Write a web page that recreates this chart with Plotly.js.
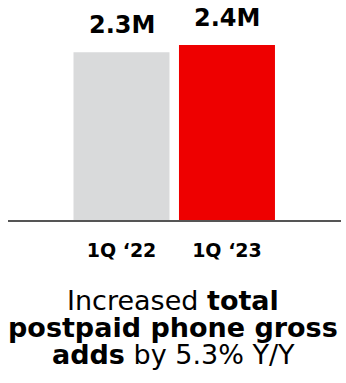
<!DOCTYPE html>
<html><head><meta charset="utf-8">
<script src="https://cdn.plot.ly/plotly-3.0.1.min.js"></script>
<style>html,body{margin:0;padding:0;background:#fff;}#chart{width:346px;height:383px;}</style>
</head><body><div id="chart"></div>
<script>
const categories = ["1Q ‘22", "1Q ‘23"];
const values = [2.3, 2.4];
const valueLabels = ["2.3M", "2.4M"];
const barColors = ["#d9dadb", "#ee0000"];
const captionLines = [
  "Increased <b>total</b>",
  "<b>postpaid phone gross</b>",
  "<b>adds</b> by 5.3% Y/Y"
];

const F = "DejaVu Sans, Liberation Sans, Arial, sans-serif";
const W = 346, H = 383, mL = 8, mR = 5, mT = 0, mB = 163;
const plotH = H - mT - mB;

const annotations = categories.map((c, i) => ({
  x: c, y: values[i], xref: 'x', yref: 'y',
  text: '<b>' + valueLabels[i] + '</b>', showarrow: false,
  yanchor: 'bottom', yshift: 11,
  font: {family: F, size: 24, color: '#000'}
}));
const captionY = [300, 327, 354];
captionLines.forEach((t, i) => {
  annotations.push({
    x: 0.4955, y: -(captionY[i] - (H - mB)) / plotH, xref: 'paper', yref: 'paper',
    text: t, showarrow: false, xanchor: 'center', yanchor: 'middle',
    font: {family: F, size: 27, color: '#000'}
  });
});

Plotly.newPlot('chart', [{
  type: 'bar', x: categories, y: values,
  marker: {color: barColors}, width: 0.91,
  hoverinfo: 'none'
}], {
  width: W, height: H,
  margin: {l: mL, r: mR, t: mT, b: mB, pad: 0},
  paper_bgcolor: '#fff', plot_bgcolor: '#fff',
  showlegend: false,
  xaxis: {
    type: 'category', range: [-1.076, 2.081], fixedrange: true,
    showline: true, linecolor: '#555', linewidth: 1.5,
    showgrid: false, zeroline: false, ticks: '',
    ticklabelstandoff: 13,
    tickfont: {family: F, size: 19, color: '#000', weight: 'bold'}
  },
  yaxis: {
    range: [0, 3.017], visible: false, fixedrange: true
  },
  annotations: annotations
}, {staticPlot: true});
</script></body></html>
